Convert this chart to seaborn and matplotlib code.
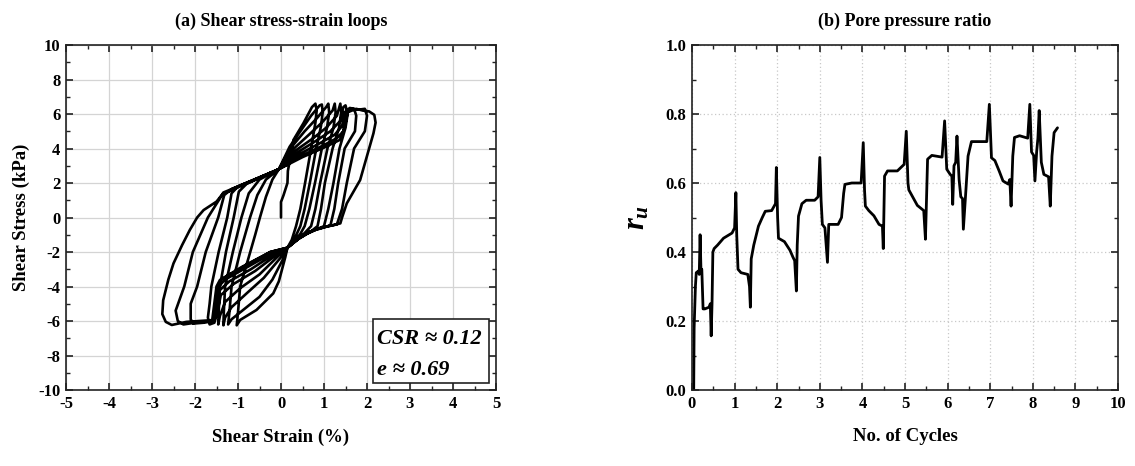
import matplotlib
matplotlib.use("Agg")
import matplotlib.pyplot as plt
from matplotlib.ticker import MultipleLocator, FormatStrFormatter
from matplotlib.patches import Rectangle
import pandas as pd
import seaborn as sns

# ---------------- (a) stress-strain loops: (strain %, stress kPa) per cycle ----------------
cycle0 = [(0.00, 0.0), (0.00, 0.9), (0.06, 1.3), (0.15, 2.0), (0.16, 2.7), (0.22, 3.5), (0.29, 4.5),
          (0.52, 5.46), (0.72, 6.4), (0.80, 6.6),
          (0.83, 6.2), (0.80, 5.5), (0.70, 4.0), (0.56, 2.0), (0.45, 0.5), (0.35, -0.5), (0.25, -1.3), (0.15, -1.75),
          (0.10, -2.3), (-0.05, -3.7), (-0.18, -4.4), (-0.57, -5.36), (-0.95, -5.94), (-1.03, -6.25),
          (-1.00, -5.5), (-0.95, -4.0), (-0.75, -2.3), (-0.60, -1.0), (-0.49, 0.0), (-0.35, 1.2), (-0.20, 2.2), (-0.05, 2.8)]
cycle1 = [(0.20, 4.1), (0.45, 5.0), (0.70, 5.9), (0.90, 6.5), (0.95, 6.55),
          (0.97, 6.1), (0.93, 5.3), (0.82, 4.0), (0.67, 2.0), (0.55, 0.5), (0.45, -0.5), (0.30, -1.3), (0.15, -1.75),
          (0.05, -2.4), (-0.20, -3.6), (-0.50, -4.6), (-0.90, -5.4), (-1.15, -5.9), (-1.23, -6.2),
          (-1.20, -5.5), (-1.15, -4.0), (-0.95, -2.0), (-0.72, 0.0), (-0.55, 1.3), (-0.35, 2.2), (-0.05, 2.8)]
cycle2 = [(0.25, 4.1), (0.55, 5.0), (0.85, 5.8), (1.05, 6.4), (1.10, 6.6),
          (1.12, 6.1), (1.07, 5.2), (0.95, 4.0), (0.79, 2.0), (0.66, 0.5), (0.55, -0.5), (0.45, -0.95), (0.30, -1.4), (0.15, -1.75),
          (0.00, -2.3), (-0.40, -3.5), (-0.80, -4.4), (-1.15, -5.2), (-1.30, -5.8), (-1.34, -6.25),
          (-1.33, -5.5), (-1.30, -4.0), (-1.12, -2.0), (-0.92, 0.0), (-0.75, 1.4), (-0.50, 2.2), (-0.05, 2.8)]
cycle3 = [(0.30, 4.0), (0.65, 4.8), (0.95, 5.5), (1.20, 6.2), (1.25, 6.6),
          (1.27, 6.1), (1.22, 5.2), (1.08, 4.0), (0.91, 2.0), (0.80, 0.5), (0.70, -0.5), (0.55, -0.9), (0.35, -1.35), (0.15, -1.75),
          (-0.05, -2.2), (-0.50, -3.3), (-0.95, -4.1), (-1.30, -4.9), (-1.42, -5.7), (-1.46, -6.2),
          (-1.45, -5.5), (-1.42, -4.0), (-1.28, -2.0), (-1.10, 0.0), (-0.98, 1.5), (-0.80, 1.95), (-0.05, 2.8)]
cycle4 = [(0.35, 3.9), (0.75, 4.6), (1.05, 5.2), (1.30, 5.9), (1.38, 6.6),
          (1.40, 6.1), (1.35, 5.2), (1.20, 4.0), (1.02, 2.0), (0.93, 0.5), (0.85, -0.5), (0.70, -0.8), (0.40, -1.25), (0.15, -1.75),
          (-0.10, -2.15), (-0.60, -3.1), (-1.10, -3.85), (-1.40, -4.5), (-1.48, -5.5), (-1.55, -6.1), (-1.66, -6.2),
          (-1.70, -5.8), (-1.66, -5.0), (-1.62, -4.0), (-1.45, -2.0), (-1.25, 0.0), (-1.15, 1.4), (-1.00, 1.8), (-0.05, 2.8)]
cycle5 = [(0.40, 3.8), (0.85, 4.5), (1.15, 5.0), (1.38, 5.6), (1.45, 6.4), (1.50, 6.5),
          (1.55, 6.0), (1.50, 5.2), (1.36, 4.0), (1.22, 2.0), (1.10, 0.5), (1.00, -0.5), (0.80, -0.72), (0.60, -0.95), (0.40, -1.25), (0.15, -1.75),
          (-0.15, -2.1), (-0.70, -3.0), (-1.20, -3.7), (-1.42, -4.2), (-1.50, -5.3), (-1.55, -6.0), (-1.80, -6.1), (-2.04, -6.15),
          (-2.10, -5.9), (-2.10, -5.0), (-1.95, -4.0), (-1.75, -2.0), (-1.46, 0.0), (-1.32, 1.3), (-1.15, 1.65), (-0.05, 2.8)]
cycle6 = [(0.45, 3.7), (0.90, 4.3), (1.25, 4.8), (1.42, 5.3), (1.48, 6.1), (1.60, 6.35), (1.70, 6.3),
          (1.75, 5.9), (1.72, 5.0), (1.48, 4.0), (1.33, 2.0), (1.24, 0.5), (1.15, -0.45), (1.00, -0.58), (0.80, -0.72),
          (0.60, -0.93), (0.40, -1.22), (0.15, -1.75),
          (-0.20, -2.05), (-0.80, -2.9), (-1.30, -3.6), (-1.45, -4.0), (-1.52, -5.2), (-1.58, -6.0), (-2.00, -6.1), (-2.27, -6.2),
          (-2.40, -6.0), (-2.45, -5.4), (-2.25, -4.0), (-2.05, -2.0), (-1.70, 0.0), (-1.50, 0.8), (-1.36, 1.35), (-0.70, 2.08), (-0.05, 2.8)]
cycle7 = [(0.50, 3.6), (1.00, 4.2), (1.30, 4.6), (1.45, 5.0), (1.50, 6.0), (1.65, 6.3), (1.80, 6.25), (1.95, 6.3),
          (2.00, 5.9), (1.95, 5.0), (1.70, 4.0), (1.53, 2.0), (1.42, 0.5), (1.30, -0.4), (1.00, -0.56), (0.80, -0.7),
          (0.60, -0.9), (0.40, -1.2), (0.15, -1.75),
          (-0.25, -2.0), (-0.90, -2.85), (-1.42, -3.62), (-1.50, -4.0), (-1.55, -5.0), (-1.60, -5.95), (-2.20, -6.05), (-2.54, -6.23),
          (-2.68, -6.05), (-2.76, -5.6), (-2.74, -4.8), (-2.62, -3.6), (-2.50, -2.66), (-2.30, -1.6), (-2.12, -0.72),
          (-1.95, 0.0), (-1.80, 0.43), (-1.50, 0.92), (-1.38, 1.3), (-1.34, 1.45), (-0.70, 2.1), (-0.05, 2.8)]
cycle8 = [(0.50, 3.5), (1.00, 4.05), (1.37, 4.5), (1.48, 5.2), (1.55, 6.1), (1.75, 6.3), (1.90, 6.2), (2.05, 6.15), (2.17, 5.95),
          (2.20, 5.5), (2.15, 4.88), (2.05, 4.0), (1.84, 2.17), (1.53, 0.82), (1.42, 0.0), (1.38, -0.34), (1.20, -0.45),
          (1.00, -0.55), (0.80, -0.7), (0.60, -0.9), (0.40, -1.2), (0.15, -1.75),
          (-0.25, -2.0), (-0.90, -2.9), (-1.35, -3.55)]

# ---------------- (b) pore pressure ratio ----------------
n_cycles = [0.04, 0.05, 0.08, 0.10, 0.15, 0.17, 0.19, 0.21, 0.23, 0.26, 0.30, 0.40, 0.43, 0.45, 0.47, 0.49, 0.52,
            0.60, 0.74, 0.94, 1.00, 1.03, 1.05, 1.08, 1.15, 1.31, 1.35, 1.37, 1.39, 1.45, 1.56, 1.65, 1.72, 1.87,
            1.96, 1.98, 2.01, 2.03, 2.17, 2.30, 2.37, 2.41, 2.45, 2.47, 2.50, 2.58, 2.68, 2.88, 2.96, 3.00, 3.03,
            3.06, 3.12, 3.18, 3.21, 3.43, 3.51, 3.56, 3.59, 3.75, 3.97, 4.02, 4.05, 4.07, 4.15, 4.27, 4.39, 4.47,
            4.49, 4.52, 4.59, 4.82, 4.98, 5.03, 5.07, 5.09, 5.21, 5.29, 5.44, 5.48, 5.53, 5.63, 5.87, 5.93, 5.98,
            6.06, 6.10, 6.12, 6.15, 6.19, 6.22, 6.27, 6.31, 6.35, 6.37, 6.43, 6.48, 6.56, 6.76, 6.92, 6.98, 7.03,
            7.11, 7.21, 7.30, 7.42, 7.46, 7.49, 7.53, 7.57, 7.69, 7.88, 7.93, 7.97, 8.02, 8.05, 8.09, 8.12, 8.15,
            8.20, 8.26, 8.37, 8.41, 8.45, 8.50, 8.58]
ru = [0.00, 0.18, 0.30, 0.34, 0.345, 0.335, 0.45, 0.35, 0.35, 0.235, 0.235, 0.24, 0.25, 0.157, 0.25, 0.40, 0.41,
      0.42, 0.44, 0.455, 0.47, 0.572, 0.45, 0.35, 0.34, 0.335, 0.30, 0.24, 0.38, 0.42, 0.475, 0.50, 0.518, 0.52,
      0.54, 0.645, 0.50, 0.44, 0.43, 0.405, 0.385, 0.375, 0.287, 0.42, 0.504, 0.54, 0.55, 0.55, 0.56, 0.674, 0.55,
      0.48, 0.47, 0.37, 0.48, 0.48, 0.50, 0.57, 0.596, 0.60, 0.60, 0.717, 0.58, 0.533, 0.52, 0.505, 0.48, 0.475,
      0.41, 0.62, 0.635, 0.635, 0.654, 0.75, 0.60, 0.58, 0.553, 0.535, 0.52, 0.437, 0.669, 0.68, 0.675, 0.78, 0.64,
      0.625, 0.62, 0.538, 0.65, 0.66, 0.736, 0.61, 0.56, 0.555, 0.466, 0.58, 0.678, 0.72, 0.72, 0.72, 0.828, 0.673,
      0.665, 0.635, 0.606, 0.597, 0.61, 0.533, 0.678, 0.732, 0.737, 0.73, 0.828, 0.69, 0.68, 0.606, 0.69, 0.73, 0.81,
      0.66, 0.625, 0.618, 0.533, 0.678, 0.746, 0.76]

titles = ["(a) Shear stress-strain loops", "(b) Pore pressure ratio"]
annotation_lines = ["CSR \u2248 0.12", "e \u2248 0.69"]

# ---------------- style ----------------
sns.set_theme(style="ticks")
plt.rcParams.update({
    "font.family": ["Liberation Serif", "DejaVu Serif"],
    "font.weight": "bold",
    "axes.labelweight": "bold",
    "axes.titleweight": "bold",
    "text.color": "black",
    "axes.labelcolor": "black",
    "xtick.color": "black",
    "ytick.color": "black",
    "axes.unicode_minus": False,
    "mathtext.fontset": "custom",
    "mathtext.it": "Liberation Serif:italic:bold",
    "mathtext.rm": "Liberation Serif:bold",
    "mathtext.bf": "Liberation Serif:bold",
    "xtick.direction": "in",
    "ytick.direction": "in",
    "axes.edgecolor": "#222222",
    "axes.linewidth": 1.2,
})

fig = plt.figure(figsize=(11.35, 4.66), dpi=100)
W, H = 1135, 466
ax1 = fig.add_axes([66 / W, 1 - 390 / H, 430 / W, 345 / H])
ax2 = fig.add_axes([692 / W, 1 - 390 / H, 426 / W, 345 / H])

pts = []
for cyc in [cycle0, cycle1, cycle2, cycle3, cycle4, cycle5, cycle6, cycle7, cycle8]:
    pts.extend(cyc)
loops = pd.DataFrame(pts, columns=["strain", "stress"])

sns.lineplot(data=loops, x="strain", y="stress", sort=False, estimator=None,
             color="black", lw=1.9, ax=ax1)

pp = pd.DataFrame({"cycles": n_cycles, "ru": ru})
sns.lineplot(data=pp, x="cycles", y="ru", sort=False, estimator=None,
             color="black", lw=2.0, ax=ax2)

# axes (a)
ax1.set_xlim(-5, 5)
ax1.set_ylim(-10, 10)
ax1.xaxis.set_major_locator(MultipleLocator(1))
ax1.xaxis.set_minor_locator(MultipleLocator(0.5))
ax1.yaxis.set_major_locator(MultipleLocator(2))
ax1.yaxis.set_minor_locator(MultipleLocator(1))
ax1.grid(True, which="major", color="#d4d4d4", lw=0.9, ls="-")
ax1.set_xlabel("Shear Strain (%)", fontsize=13.5, labelpad=12)
ax1.set_ylabel("Shear Stress (kPa)", fontsize=13.5, labelpad=6)
ax1.set_title(titles[0], fontsize=13, pad=14)
ax1.add_patch(Rectangle((0.714, 0.02), 0.270, 0.186, transform=ax1.transAxes,
                        fc="white", ec="#222222", lw=1.2, zorder=5))
ax1.text(0.724, 0.148, annotation_lines[0], transform=ax1.transAxes, ha="left", va="center",
         fontsize=16, fontstyle="italic", fontweight="bold", zorder=6)
ax1.text(0.724, 0.057, annotation_lines[1], transform=ax1.transAxes, ha="left", va="center",
         fontsize=16, fontstyle="italic", fontweight="bold", zorder=6)

# axes (b)
ax2.set_xlim(0, 10)
ax2.set_ylim(0, 1.0)
ax2.xaxis.set_major_locator(MultipleLocator(1))
ax2.xaxis.set_minor_locator(MultipleLocator(0.5))
ax2.yaxis.set_major_locator(MultipleLocator(0.2))
ax2.yaxis.set_minor_locator(MultipleLocator(0.1))
ax2.yaxis.set_major_formatter(FormatStrFormatter("%.1f"))
ax2.grid(True, which="major", color="#c8c8c8", lw=0.9, ls=(0, (1, 2)))
ax2.set_xlabel("No. of Cycles", fontsize=13.5, labelpad=12)
ax2.set_ylabel("$r_u$", fontsize=22, labelpad=10)
ax2.set_title(titles[1], fontsize=13, pad=14)

for ax in (ax1, ax2):
    ax.tick_params(which="both", top=True, right=True, direction="in", colors="#222222")
    ax.tick_params(which="major", length=5, width=1.2, labelsize=12, pad=4, labelcolor="black")
    ax.tick_params(which="minor", length=3, width=1.0)
    for lab in ax.get_xticklabels() + ax.get_yticklabels():
        lab.set_fontweight("bold")
    ax.set_axisbelow(True)

fig.savefig("out.png", dpi=100)
